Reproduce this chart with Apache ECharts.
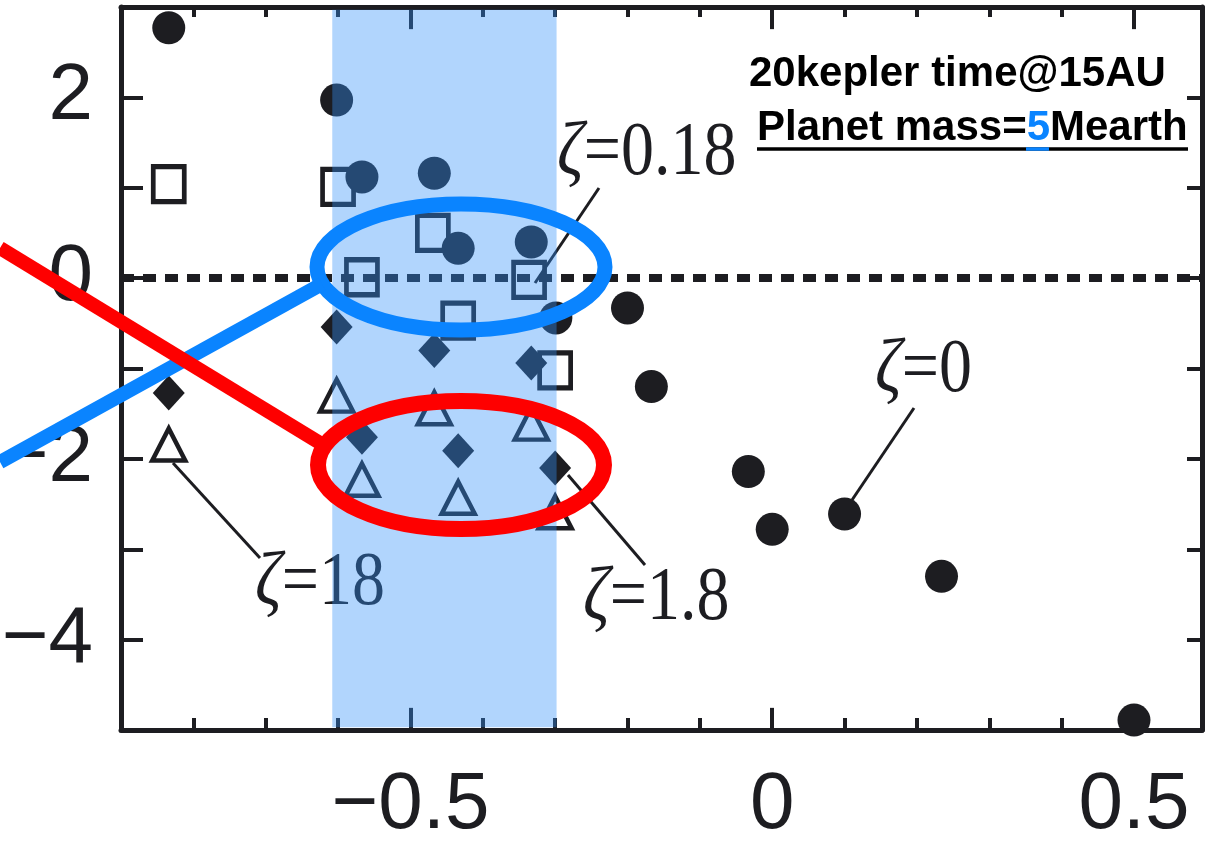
<!DOCTYPE html>
<html>
<head>
<meta charset="utf-8">
<script src="https://cdn.jsdelivr.net/npm/echarts@6/dist/echarts.min.js"></script>
<style>
	html, body { margin: 0; padding: 0; background: #fff; }
	#main { width: 1205px; height: 842px; }
</style>
</head>
<body>
<div id="main"></div>
<script>
// axis values
var xMajor = [-0.5, 0, 0.5];
var yMajor = [-4, -2, 0, 2];
// shaded x range
var band = [-0.608, -0.298];

// points per zeta value [x, y]
var zeta0 = [
	[-0.834, 2.77], [-0.602, 1.97], [-0.567, 1.12], [-0.467, 1.16], [-0.434, 0.33],
	[-0.333, 0.40], [-0.299, -0.44], [-0.200, -0.33], [-0.167, -1.20], [-0.033, -2.14],
	[0.000, -2.78], [0.100, -2.61], [0.234, -3.30], [0.500, -4.89]
];
var zeta0_18 = [
	[-0.834, 1.04], [-0.600, 1.01], [-0.469, 0.50], [-0.567, 0.01], [-0.336, -0.02],
	[-0.434, -0.47], [-0.300, -1.02]
];
var zeta1_8 = [
	[-0.834, -1.27], [-0.602, -0.54], [-0.467, -0.80], [-0.333, -0.94], [-0.567, -1.76],
	[-0.434, -1.91], [-0.300, -2.10]
];
var zeta18 = [
	[-0.834, -1.84], [-0.602, -1.30], [-0.467, -1.44], [-0.333, -1.61], [-0.567, -2.23],
	[-0.434, -2.43], [-0.300, -2.59]
];

var ink = '#1d1d21';
var sans = '"Liberation Sans", Arial, sans-serif';
var serif = '"Liberation Serif", "Times New Roman", serif';
var yMin = -5, yMax = 3;

function minus(v) {
	return String(v).replace('-', '\u2212');
}

function pick(list, v) {
	for (var i = 0; i < list.length; i++) {
		if (Math.abs(list[i] - v) < 1e-6) return minus(list[i]);
	}
	return '';
}

function xAxisOf(pos) {
	return {
		type: 'value',
		position: pos,
		min: -0.9,
		max: 0.594,
		interval: 0.1,
		axisLine: { show: true, onZero: false, lineStyle: { color: ink, width: 5 } },
		axisTick: { show: true, inside: true, length: pos == 'bottom' ? 12 : 10, lineStyle: { color: ink, width: 4 } },
		axisLabel: {
			show: pos == 'bottom',
			formatter: function(v) { return pick(xMajor, v); },
			color: ink,
			fontSize: 80,
			fontFamily: sans,
			margin: 36
		},
		splitLine: { show: false }
	};
}

function yAxisOf(pos) {
	return {
		type: 'value',
		position: pos,
		min: yMin,
		max: yMax,
		interval: 1,
		axisLine: { show: true, onZero: false, lineStyle: { color: ink, width: 5 } },
		axisTick: { show: true, inside: true, length: pos == 'left' ? 22 : 15, lineStyle: { color: ink, width: 4 } },
		axisLabel: {
			show: pos == 'left',
			formatter: function(v) { return pick(yMajor, v); },
			color: ink,
			fontSize: 80,
			fontFamily: sans,
			margin: 28
		},
		splitLine: { show: false }
	};
}

// longer ticks at the labelled x values (about 22px tall, in y units)
var tickLen = 0.245;
var majorTicks = [];
xMajor.forEach(function(v) {
	majorTicks.push([{ coord: [v, yMin] }, { coord: [v, yMin + tickLen] }]);
	majorTicks.push([{ coord: [v, yMax] }, { coord: [v, yMax - tickLen] }]);
});

function zetaLabel(x, y, val) {
	return {
		type: 'text',
		z: 3,
		x: x,
		y: y,
		scaleY: 1.15,
		style: {
			text: '{g|\u03b6}{n|=' + val + '}',
			rich: {
				g: { fontSize: 66, fontFamily: serif, fontStyle: 'italic', fill: ink },
				n: { fontSize: 66, fontFamily: serif, fill: ink }
			},
			align: 'left', textAlign: 'left',
			verticalAlign: 'middle', textVerticalAlign: 'middle'
		}
	};
}

function seg(x1, y1, x2, y2, color, w, z) {
	return { type: 'line', z: z, shape: { x1: x1, y1: y1, x2: x2, y2: y2 }, style: { stroke: color, lineWidth: w } };
}

var blue = '#0a84ff';
var red = '#fe0000';

var graphics = [
	// leader lines
	seg(599, 188, 535, 283, ink, 3, 3),
	seg(914, 408, 852, 500, ink, 3, 3),
	seg(260, 558, 173, 463, ink, 3, 3),
	seg(645, 565, 568, 475, ink, 3, 3),
	zetaLabel(557, 154, '0.18'),
	zetaLabel(875, 371, '0'),
	zetaLabel(255, 584, '18'),
	zetaLabel(583, 599, '1.8'),
	// header
	{
		type: 'text', z: 10, x: 749, y: 74,
		style: {
			text: '20kepler time@15AU', fontSize: 42, fontWeight: 'bold', fontFamily: sans, fill: '#000',
			align: 'left', textAlign: 'left', verticalAlign: 'middle', textVerticalAlign: 'middle'
		}
	},
	{
		type: 'text', z: 10, x: 757, y: 128,
		style: {
			text: '{n|Planet mass=}{b|5}{n|Mearth}',
			rich: {
				n: { fontSize: 42, fontWeight: 'bold', fontFamily: sans, fill: '#000' },
				b: { fontSize: 42, fontWeight: 'bold', fontFamily: sans, fill: blue }
			},
			align: 'left', textAlign: 'left', verticalAlign: 'middle', textVerticalAlign: 'middle'
		}
	},
	seg(757, 149, 1188, 149, '#000', 3.5, 10),
	seg(1026, 149, 1049, 149, blue, 3.5, 11),
	// highlight marks
	{ type: 'ellipse', z: 10, shape: { cx: 461, cy: 267, rx: 144, ry: 63 }, style: { fill: 'none', stroke: blue, lineWidth: 15 } },
	seg(0, 462, 322, 284, blue, 14, 10),
	{ type: 'ellipse', z: 11, shape: { cx: 461, cy: 465, rx: 143, ry: 64 }, style: { fill: 'none', stroke: red, lineWidth: 16 } },
	seg(0, 248, 320, 443, red, 14, 11)
];

var option = {
	animation: false,
	backgroundColor: '#fff',
	grid: { left: 121, right: 3, top: 7, bottom: 112, outerBoundsMode: 'none', containLabel: false },
	xAxis: [xAxisOf('bottom'), xAxisOf('top')],
	yAxis: [yAxisOf('left'), yAxisOf('right')],
	series: [{
		name: 'zeta=0.18',
		type: 'scatter',
		symbol: 'rect',
		symbolSize: [31, 35],
		itemStyle: { color: 'rgba(0,0,0,0)', borderColor: ink, borderWidth: 5, opacity: 1 },
		data: zeta0_18,
		markArea: {
			silent: true,
			z: 6,
			itemStyle: { color: 'rgba(50,145,250,0.38)' },
			data: [[{ xAxis: band[0], yAxis: 2.97 }, { xAxis: band[1], yAxis: -4.97 }]]
		}
	}, {
		name: 'zeta=18',
		type: 'scatter',
		symbol: 'triangle',
		symbolSize: [33, 32],
		itemStyle: { color: 'rgba(0,0,0,0)', borderColor: ink, borderWidth: 4.5, opacity: 1 },
		data: zeta18,
		markLine: {
			silent: true,
			symbol: 'none',
			z: 4,
			label: { show: false },
			lineStyle: { color: ink, width: 4, type: 'solid', opacity: 1 },
			data: majorTicks
		}
	}, {
		name: 'zeta=1.8',
		type: 'scatter',
		symbol: 'diamond',
		symbolSize: [32, 35],
		itemStyle: { color: ink, opacity: 1 },
		data: zeta1_8
	}, {
		name: 'zeta=0',
		type: 'scatter',
		symbol: 'circle',
		symbolSize: 33,
		itemStyle: { color: ink, opacity: 1 },
		data: zeta0,
		markLine: {
			silent: true,
			symbol: 'none',
			z: 5,
			label: { show: false },
			lineStyle: { color: ink, width: 8, type: [13, 9], opacity: 1 },
			data: [{ yAxis: 0 }]
		}
	}],
	graphic: graphics
};

var my = echarts.init(document.getElementById('main'));
my.setOption(option);
</script>
</body>
</html>
